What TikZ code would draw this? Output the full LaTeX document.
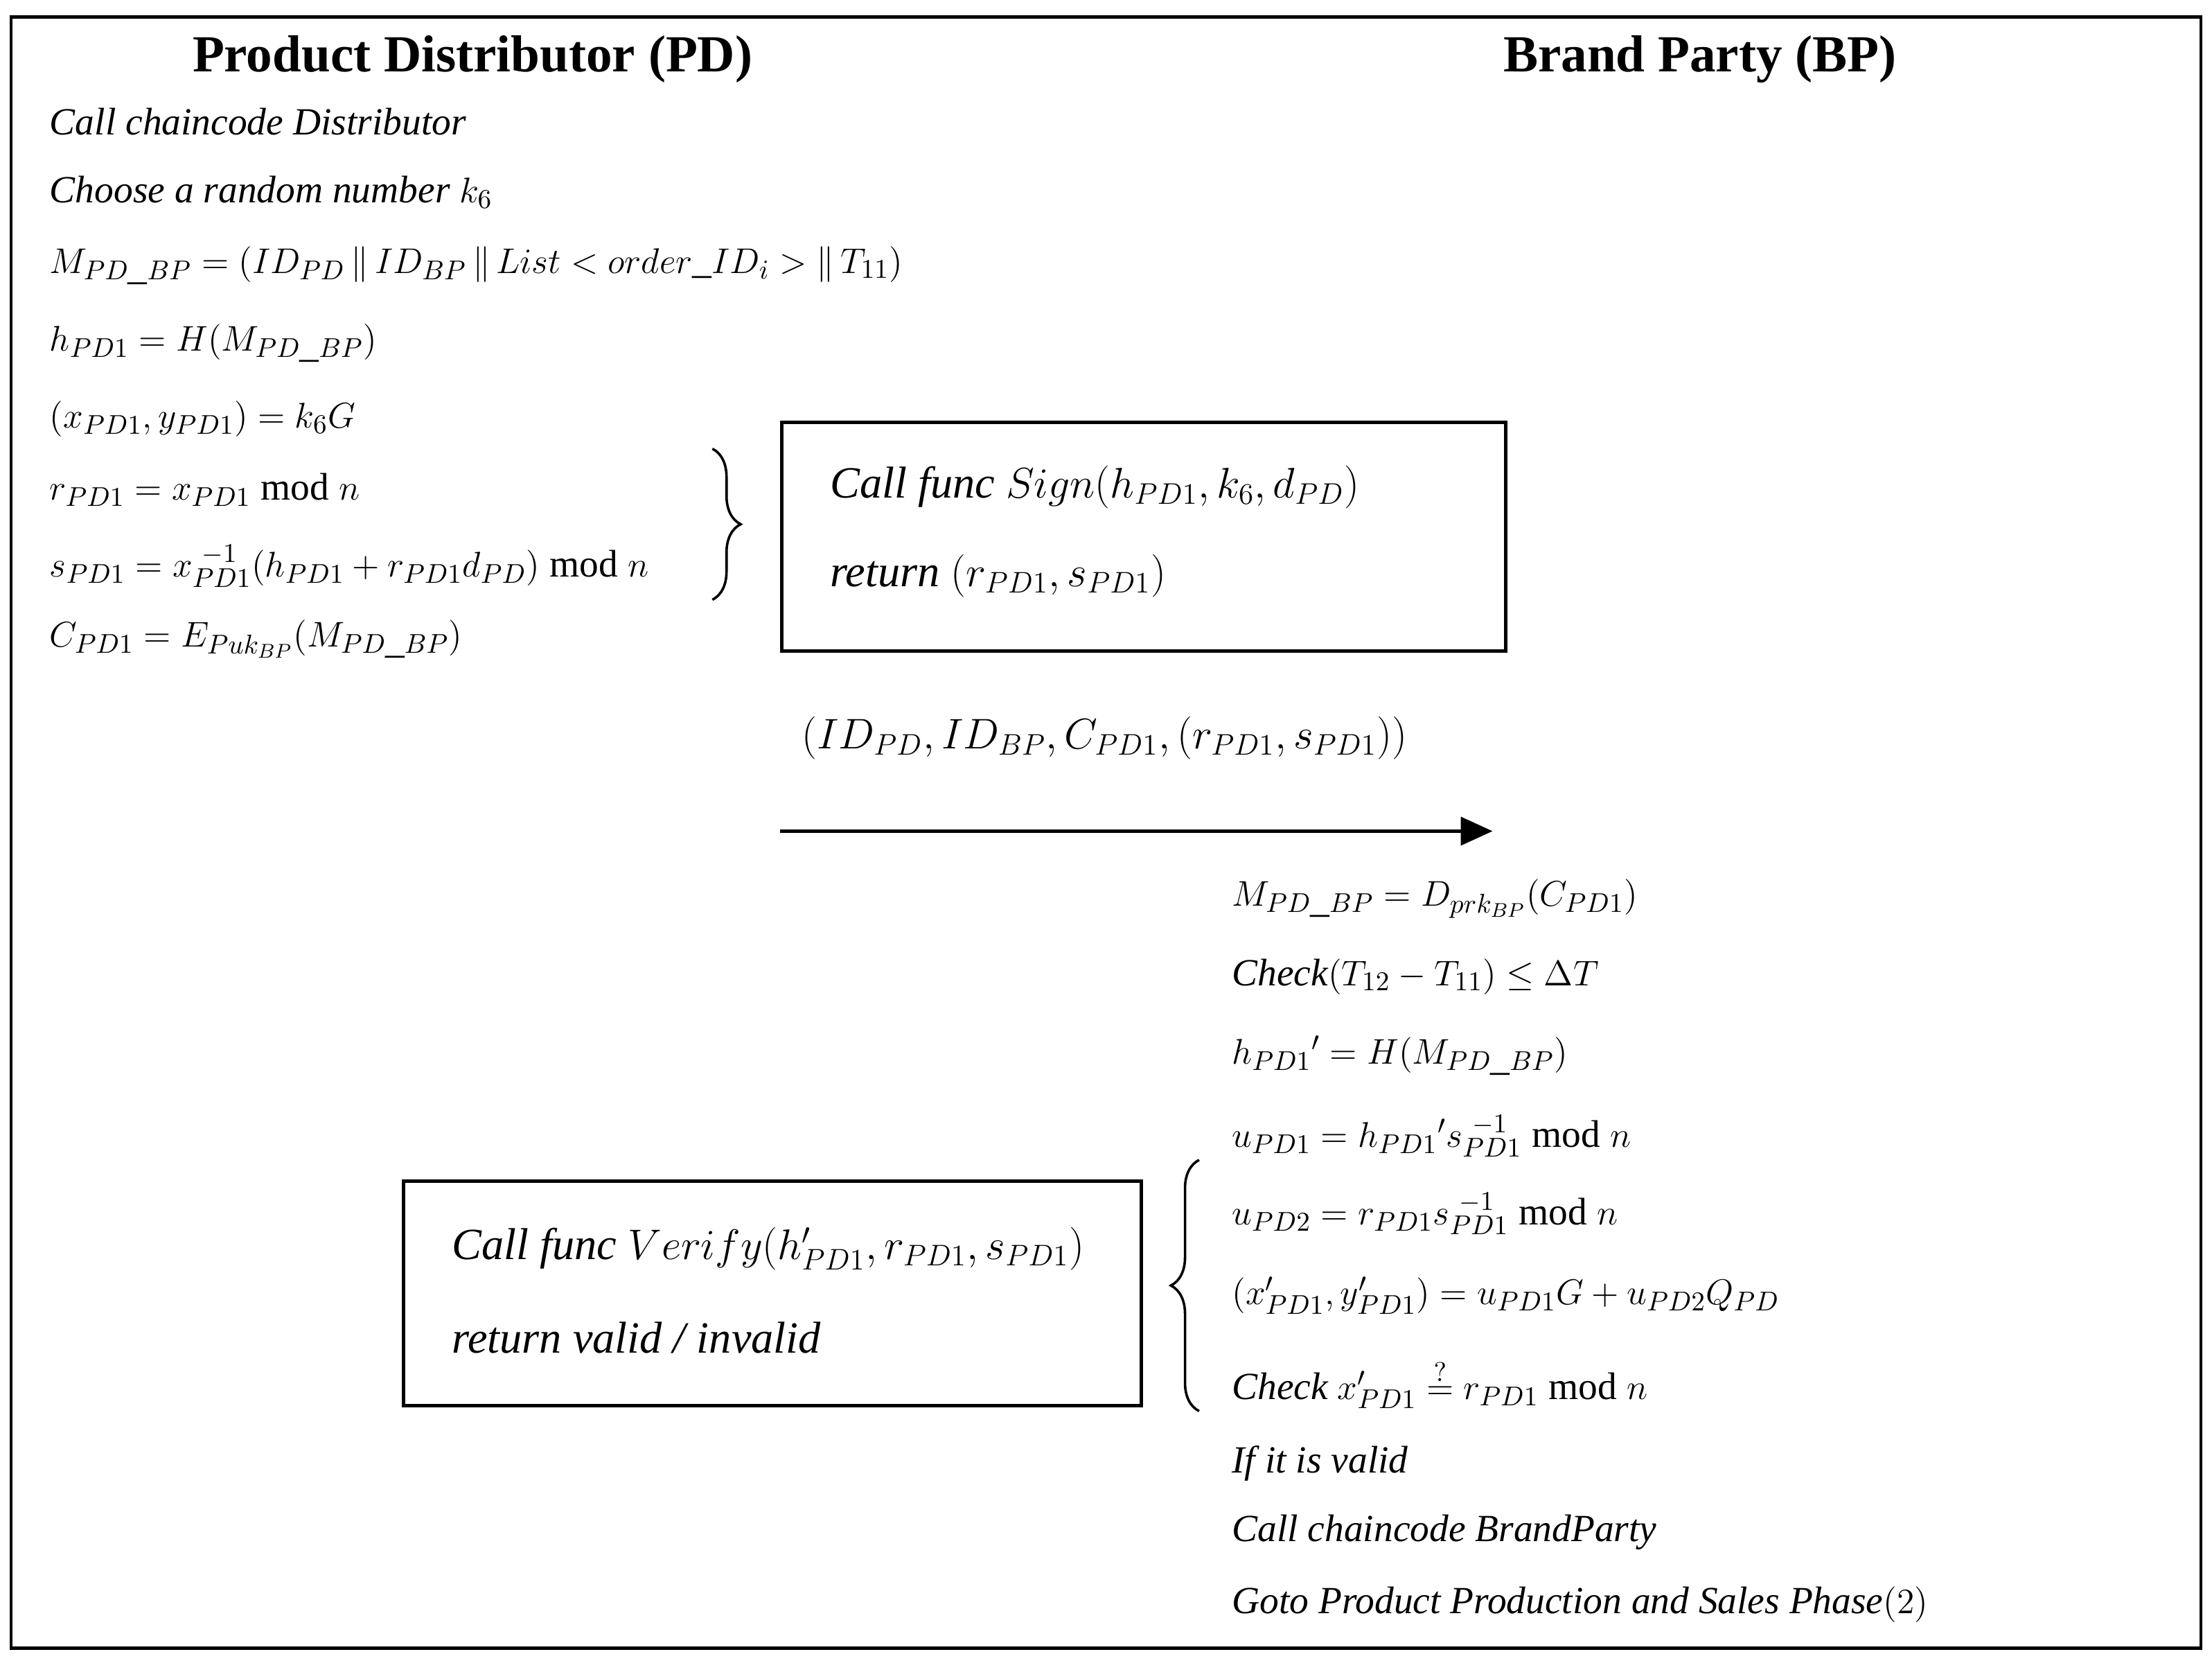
\documentclass[tikz,border=0pt]{standalone}
\usepackage{fontspec}
\setmainfont{Liberation Serif}
\usetikzlibrary{decorations.pathreplacing,arrows.meta}
\tikzset{
  ln/.style={anchor=west,inner sep=0pt,font=\fontsize{15.5}{18}\selectfont\itshape},
  bl/.style={anchor=west,inner sep=0pt,font=\fontsize{18}{22}\selectfont\itshape},
  hd/.style={inner sep=0pt,font=\fontsize{21}{25}\selectfont\bfseries},
  frame/.style={draw,line width=1.4pt},
  brc/.style={decorate,decoration={brace,amplitude=0.4cm},line width=1pt}
}
\begin{document}
\begin{tikzpicture}[x=0.02cm,y=-0.02cm]
\useasboundingbox (0,0) rectangle (1568,1177);
\draw[line width=1.2pt] (8,12) rectangle (1560,1168);
\node[hd] (h1) at (335,42) {Product Distributor (PD)};
\node[hd] (h2) at (1205,42) {Brand Party (BP)};
\node[ln] (l1) at (35,86) {Call chaincode Distributor};
\node[ln] (l2) at (35,136) {Choose a random number $k_6$};
\node[ln] (l3) at (35,188) {$M_{PD\_BP}=(ID_{PD}\,\|\,ID_{BP}\,\|\,List<order\_ID_i>\|\,T_{11})$};
\node[ln] (l4) at (35,243) {$h_{PD1}=H(M_{PD\_BP})$};
\node[ln] (l5) at (35,297) {$(x_{PD1},y_{PD1})=k_6G$};
\node[ln] (l6) at (35,347) {$r_{PD1}=x_{PD1}\bmod n$};
\node[ln] (l7) at (35,401) {$s_{PD1}=x_{PD1}^{\ -1}(h_{PD1}+r_{PD1}d_{PD})\bmod n$};
\node[ln] (l8) at (35,453) {$C_{PD1}=E_{Puk_{BP}}(M_{PD\_BP})$};
\coordinate (b1t) at (505,318);
\coordinate (b1b) at (505,425);
\draw[brc] (b1t) -- (b1b);
\node[frame,minimum width=513*0.02cm,minimum height=162*0.02cm,anchor=north west] (box1) at (553,298) {};
\node[bl] (s1) at (588,345) {Call func $Sign(h_{PD1},k_6,d_{PD})$};
\node[bl] (s2) at (588,408) {return $(r_{PD1},s_{PD1})$};
\node[inner sep=0pt,font=\fontsize{17}{20}\selectfont] (msg) at (783,523) {$(ID_{PD},ID_{BP},C_{PD1},(r_{PD1},s_{PD1}))$};
\coordinate (a1) at (553,589);
\coordinate (a2) at (1058,589);
\draw[-{Triangle[length=0.45cm,width=0.4cm]},line width=1.2pt] (a1) -- (a2);
\node[ln] (r1) at (873,637) {$M_{PD\_BP}=D_{prk_{BP}}(C_{PD1})$};
\node[ln] (r2) at (873,692) {Check$(T_{12}-T_{11})\le\Delta T$};
\node[ln] (r3) at (873,748) {$h_{PD1}{}'=H(M_{PD\_BP})$};
\node[ln] (r4) at (873,805) {$u_{PD1}=h_{PD1}{}'s_{PD1}^{\ -1}\bmod n$};
\node[ln] (r5) at (873,860) {$u_{PD2}=r_{PD1}s_{PD1}^{\ -1}\bmod n$};
\node[ln] (r6) at (873,918) {$(x'_{PD1},y'_{PD1})=u_{PD1}G+u_{PD2}Q_{PD}$};
\node[ln] (r7) at (873,981) {Check $x'_{PD1}\stackrel{?}{=}r_{PD1}\bmod n$};
\node[ln] (r8) at (873,1037) {If it is valid};
\node[ln] (r9) at (873,1086) {Call chaincode BrandParty};
\node[ln] (r10) at (873,1137) {Goto Product Production and Sales Phase$(2)$};
\coordinate (b2b) at (850,1000);
\coordinate (b2t) at (850,822);
\draw[brc] (b2b) -- (b2t);
\node[frame,minimum width=523*0.02cm,minimum height=159*0.02cm,anchor=north west] (box2) at (285,836) {};
\node[bl] (v1) at (320,885) {Call func $Verify(h'_{PD1},r_{PD1},s_{PD1})$};
\node[bl] (v2) at (320,948) {return valid / invalid};
\end{tikzpicture}
\end{document}
